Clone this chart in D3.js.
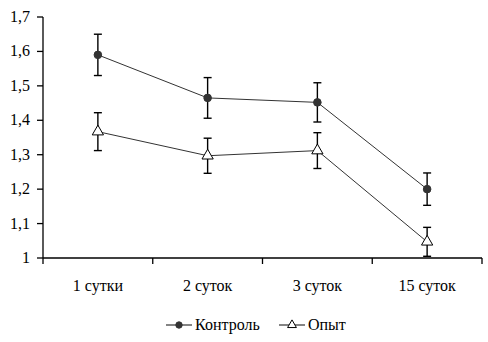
<!DOCTYPE html>
<html>
<head>
<meta charset="utf-8">
<script src="https://cdn.jsdelivr.net/npm/d3@7/dist/d3.min.js"></script>
</head>
<body style="margin:0">
<svg id="chart" width="488" height="342"></svg>
<script>
// Categories (time points) and series
const categories = ["1 сутки", "2 суток", "3 суток", "15 суток"];
const controlValues = [1.59, 1.465, 1.452, 1.20];
const controlErrors = [0.06, 0.059, 0.057, 0.047];
const experimentValues = [1.367, 1.297, 1.312, 1.047];
const experimentErrors = [0.055, 0.051, 0.052, 0.042];
const yTicks = [1, 1.1, 1.2, 1.3, 1.4, 1.5, 1.6, 1.7];
const seriesNames = ["Контроль", "Опыт"];

const svg = d3.select("#chart");
const W = 488, H = 342;
const margin = { left: 43, right: 6, top: 17, bottom: 84 };

const x = d3.scaleBand().domain(categories).range([margin.left, W - margin.right]).padding(0);
const y = d3.scaleLinear().domain([1, 1.7]).range([H - margin.bottom, margin.top]);
const cx = c => x(c) + x.bandwidth() / 2;
const fmt = v => (Number.isInteger(v) ? String(v) : d3.format(".1f")(v).replace(".", ","));

// Y axis drawn from the scale
svg.append("line").attr("x1", margin.left).attr("x2", margin.left).attr("y1", y(1.7)).attr("y2", y(1))
  .attr("stroke", "#000").attr("stroke-width", 1.3);
svg.selectAll("line.ytk").data(yTicks).join("line").attr("class", "ytk")
  .attr("x1", margin.left - 6).attr("x2", margin.left).attr("y1", d => y(d)).attr("y2", d => y(d))
  .attr("stroke", "#000").attr("stroke-width", 1.3);
svg.selectAll("text.ylbl").data(yTicks).join("text").attr("class", "ylbl")
  .attr("x", margin.left - 13).attr("y", d => y(d) + 5)
  .attr("text-anchor", "end")
  .attr("font-family", "Liberation Serif")
  .attr("font-size", 16)
  .text(fmt);

// X axis with ticks at band boundaries
svg.append("line").attr("x1", margin.left).attr("x2", W - margin.right).attr("y1", y(1)).attr("y2", y(1))
  .attr("stroke", "#000").attr("stroke-width", 1.3);
const bounds = categories.map(c => x(c)).concat([x(categories[categories.length - 1]) + x.bandwidth()]);
svg.selectAll("line.xtk").data(bounds).join("line").attr("class", "xtk")
  .attr("x1", d => d).attr("x2", d => d).attr("y1", y(1)).attr("y2", y(1) + 6)
  .attr("stroke", "#000").attr("stroke-width", 1.3);
svg.selectAll("text.xlbl").data(categories).join("text").attr("class", "xlbl")
  .attr("x", cx)
  .attr("y", y(1) + 33)
  .attr("text-anchor", "middle")
  .attr("font-family", "Liberation Serif")
  .attr("font-size", 16)
  .text(d => d);

function drawSeries(values, errors, marker) {
  const pts = categories.map((c, i) => ({ c, v: values[i], e: errors[i] }));
  svg.append("path")
    .datum(pts)
    .attr("fill", "none")
    .attr("stroke", "#333")
    .attr("stroke-width", 1)
    .attr("d", d3.line().x(d => cx(d.c)).y(d => y(d.v)));

  const eb = svg.append("g").attr("stroke", "#000").attr("stroke-width", 1.4);
  pts.forEach(d => {
    eb.append("line").attr("x1", cx(d.c)).attr("x2", cx(d.c)).attr("y1", y(d.v + d.e)).attr("y2", y(d.v - d.e));
    eb.append("line").attr("x1", cx(d.c) - 4).attr("x2", cx(d.c) + 4).attr("y1", y(d.v + d.e)).attr("y2", y(d.v + d.e));
    eb.append("line").attr("x1", cx(d.c) - 4).attr("x2", cx(d.c) + 4).attr("y1", y(d.v - d.e)).attr("y2", y(d.v - d.e));
  });

  pts.forEach(d => marker(svg, cx(d.c), y(d.v)));
}

function circleMarker(g, px, py, r = 3.8) {
  g.append("circle").attr("cx", px).attr("cy", py).attr("r", r).attr("fill", "#333").attr("stroke", "#333");
}
function triangleMarker(g, px, py, s = 55) {
  g.append("path")
    .attr("d", d3.symbol(d3.symbolTriangle, s)())
    .attr("transform", `translate(${px},${py})`)
    .attr("fill", "#fff").attr("stroke", "#000").attr("stroke-width", 1);
}

drawSeries(controlValues, controlErrors, circleMarker);
drawSeries(experimentValues, experimentErrors, triangleMarker);

// Legend
const items = [
  { name: seriesNames[0], x0: 166, marker: (px) => circleMarker(svg, px, 325, 3.2) },
  { name: seriesNames[1], x0: 279, marker: (px) => triangleMarker(svg, px, 325, 34) }
];
items.forEach(it => {
  svg.append("line").attr("x1", it.x0).attr("x2", it.x0 + 26).attr("y1", 325).attr("y2", 325)
    .attr("stroke", "#333").attr("stroke-width", 1.2);
  it.marker(it.x0 + 13);
  svg.append("text").attr("x", it.x0 + 29).attr("y", 330)
    .attr("font-family", "Liberation Serif")
    .attr("font-size", 16).text(it.name);
});
</script>
</body>
</html>
